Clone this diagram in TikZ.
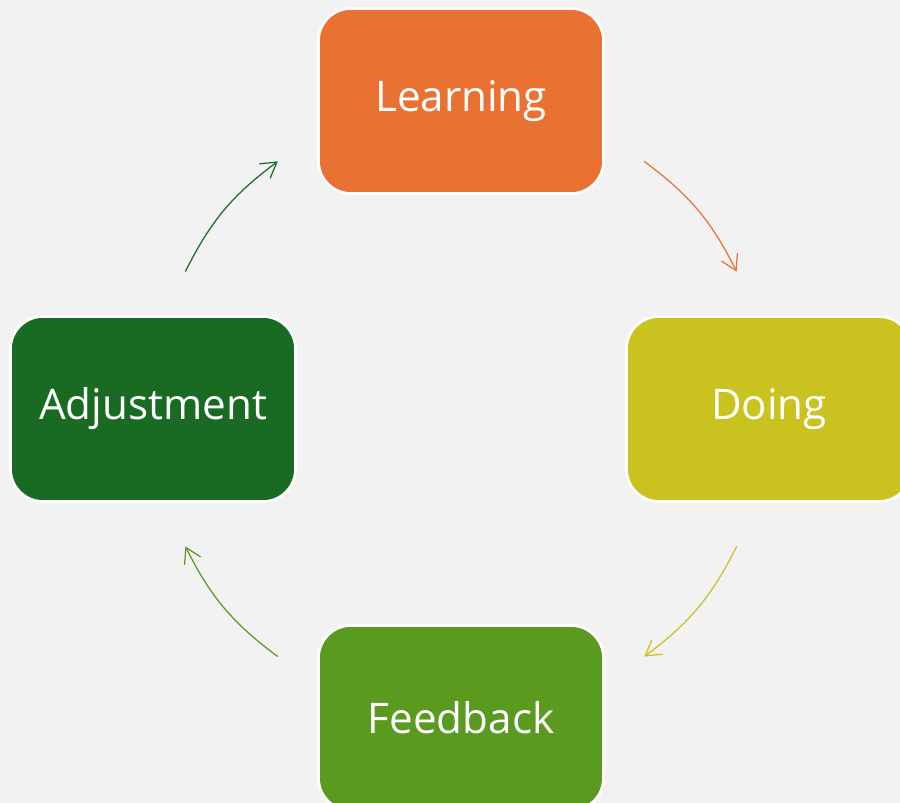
\documentclass[tikz,border=0pt]{standalone}
\usepackage{fontspec}
\setmainfont{Open Sans}
\usetikzlibrary{positioning}
\usetikzlibrary{arrows.meta}
\definecolor{bgc}{HTML}{F2F2F2}
\definecolor{orng}{HTML}{E97132}
\definecolor{olive}{HTML}{C9C21F}
\definecolor{grn}{HTML}{5A9A1F}
\definecolor{dgrn}{HTML}{196B24}
\tikzset{
    mynode/.style = {rectangle, rounded corners=0.65cm, line width=1.5pt, draw=white, align=center, minimum width=5.7cm, minimum height=3.7cm, font=\fontsize{24}{28}\selectfont, text=white},
    mynodeo/.style = {mynode, fill=orng},
    mynodey/.style = {mynode, fill=olive},
    mynodeg/.style = {mynode, fill=grn},
    mynoded/.style = {mynode, fill=dgrn},
    edgen/.style = {line width=0.7pt, -{Straight Barb[length=0.3cm, width=0.36cm]}},
    edgeo/.style = {edgen, orng},
    edgey/.style = {edgen, olive},
    edgeg/.style = {edgen, grn},
    edged/.style = {edgen, dgrn},
}

\begin{document}
\begin{tikzpicture}
\clip (0,0) rectangle (18,-16.06);
\fill[bgc] (0,0) rectangle (18,-16.06);
%
\node[mynodeo] at (9.22,-2.02) (learn) {Learning};
\node[mynodey] at (15.38,-8.18) (doing) {Doing};
\node[mynodeg] at (9.22,-14.36) (feed) {Feedback};
\node[mynoded] at (3.06,-8.18) (adj) {Adjustment};
%
\coordinate (cc) at (9.22,-8.18);
\coordinate (lo1) at ([shift={(53.5:6.16)}]cc);
\coordinate (lo2) at ([shift={(26.5:6.16)}]cc);
\coordinate (do1) at ([shift={(-26.5:6.16)}]cc);
\coordinate (do2) at ([shift={(-53.5:6.16)}]cc);
\coordinate (fe1) at ([shift={(-126.5:6.16)}]cc);
\coordinate (fe2) at ([shift={(-153.5:6.16)}]cc);
\coordinate (ad1) at ([shift={(153.5:6.16)}]cc);
\coordinate (ad2) at ([shift={(126.5:6.16)}]cc);
%
\draw[edgeo] (lo1) to[bend left=13.5] (lo2);
\draw[edgey] (do1) to[bend left=13.5] (do2);
\draw[edgeg] (fe1) to[bend left=13.5] (fe2);
\draw[edged] (ad1) to[bend left=13.5] (ad2);

\end{tikzpicture}
\end{document}
